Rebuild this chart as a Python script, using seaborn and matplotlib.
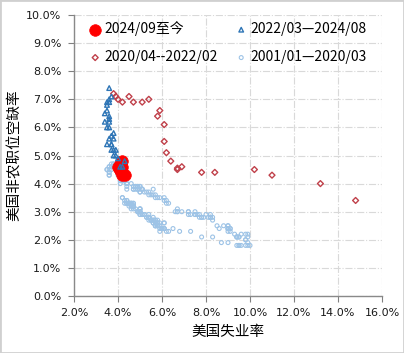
import pandas as pd
import numpy as np
import seaborn as sns
import matplotlib.pyplot as plt
from matplotlib.patches import Rectangle

# 2024/09 onwards
recent_ur = [4.1, 4.1, 4.2, 4.1, 4.0, 4.1, 4.2, 4.2, 4.2, 4.1, 4.2, 4.3]
recent_jo = [4.7, 4.6, 4.8, 4.5, 4.6, 4.5, 4.4, 4.4, 4.6, 4.5, 4.3, 4.3]

# 2022/03 - 2024/08
tri_ur = [3.6, 3.7, 3.6, 3.6, 3.5, 3.6, 3.5, 3.6, 3.6, 3.5,
          3.4, 3.6, 3.5, 3.4, 3.7, 3.6, 3.5, 3.8, 3.8, 3.8,
          3.7, 3.7, 3.7, 3.9, 3.8, 3.9, 4.0, 4.1, 4.3, 4.2]
tri_jo = [7.4, 7.1, 7.0, 6.9, 6.8, 6.3, 6.6, 6.2, 6.4, 6.9,
          6.5, 6.0, 6.0, 6.2, 5.7, 5.6, 5.4, 5.8, 5.6, 5.2,
          5.2, 5.4, 5.4, 5.2, 5.0, 5.0, 4.9, 4.6, 4.8, 4.6]

# 2020/04 - 2022/02
dia_ur = [14.8, 13.2, 11.0, 10.2, 8.4, 7.8, 6.9, 6.7, 6.7, 6.4, 6.2, 6.1,
          6.1, 5.8, 5.9, 5.4, 5.1, 4.7, 4.5, 4.2, 3.9, 4.0, 3.8]
dia_jo = [3.4, 4.0, 4.3, 4.5, 4.4, 4.4, 4.6, 4.55, 4.5, 4.8, 5.1, 5.5,
          6.1, 6.4, 6.6, 7.0, 6.9, 6.9, 7.1, 6.9, 7.1, 7.0, 7.2]

# 2001/01 - 2020/03
hist_ur = [4.2, 4.2, 4.3, 4.4, 4.3, 4.5, 4.6, 4.9, 5.0, 5.3, 5.5, 5.7,
           5.7, 5.7, 5.7, 5.9, 5.8, 5.8, 5.8, 5.7, 5.7, 5.7, 5.9, 6.0,
           5.8, 5.9, 5.9, 6.0, 6.1, 6.3, 6.2, 6.1, 6.1, 6.0, 5.8, 5.7,
           5.7, 5.6, 5.8, 5.6, 5.6, 5.6, 5.5, 5.4, 5.4, 5.5, 5.4, 5.4,
           5.3, 5.4, 5.2, 5.2, 5.1, 5.0, 5.0, 4.9, 5.0, 5.0, 5.0, 4.9,
           4.7, 4.8, 4.7, 4.7, 4.6, 4.6, 4.7, 4.7, 4.5, 4.4, 4.5, 4.4,
           4.6, 4.5, 4.4, 4.5, 4.4, 4.6, 4.7, 4.6, 4.7, 4.7, 4.7, 5.0,
           5.0, 4.9, 5.1, 5.0, 5.4, 5.6, 5.8, 6.1, 6.1, 6.5, 6.8, 7.3,
           7.8, 8.3, 8.7, 9.0, 9.4, 9.5, 9.5, 9.6, 9.8, 10.0, 9.9, 9.9,
           9.8, 9.8, 9.9, 9.9, 9.6, 9.4, 9.4, 9.5, 9.5, 9.4, 9.8, 9.3,
           9.1, 9.0, 9.0, 9.1, 9.0, 9.1, 9.0, 9.0, 9.0, 8.8, 8.6, 8.5,
           8.3, 8.3, 8.2, 8.2, 8.2, 8.2, 8.2, 8.1, 7.8, 7.8, 7.7, 7.9,
           8.0, 7.7, 7.5, 7.6, 7.5, 7.5, 7.3, 7.2, 7.2, 7.2, 6.9, 6.7,
           6.6, 6.7, 6.7, 6.2, 6.3, 6.1, 6.2, 6.1, 5.9, 5.7, 5.8, 5.6,
           5.7, 5.5, 5.4, 5.4, 5.6, 5.3, 5.2, 5.1, 5.0, 5.0, 5.1, 5.0,
           4.8, 4.9, 5.0, 5.1, 4.8, 4.9, 4.8, 4.9, 5.0, 4.9, 4.7, 4.7,
           4.7, 4.6, 4.4, 4.4, 4.4, 4.3, 4.3, 4.4, 4.2, 4.1, 4.2, 4.1,
           4.0, 4.1, 4.0, 4.0, 3.8, 4.0, 3.8, 3.8, 3.7, 3.8, 3.8, 3.9,
           4.0, 3.8, 3.8, 3.7, 3.6, 3.6, 3.7, 3.6, 3.5, 3.6, 3.6, 3.6,
           3.6, 3.5, 4.4]
hist_jo = [3.5, 3.5, 3.4, 3.3, 3.3, 3.2, 3.1, 3.0, 2.9, 2.8, 2.7, 2.7,
           2.7, 2.6, 2.6, 2.6, 2.5, 2.6, 2.6, 2.5, 2.5, 2.5, 2.5, 2.4,
           2.5, 2.4, 2.3, 2.4, 2.4, 2.3, 2.3, 2.4, 2.4, 2.4, 2.5, 2.5,
           2.6, 2.6, 2.6, 2.7, 2.7, 2.6, 2.7, 2.7, 2.8, 2.7, 2.8, 2.8,
           2.8, 2.9, 2.9, 2.9, 2.9, 3.0, 3.0, 3.0, 3.1, 3.0, 3.1, 3.0,
           3.1, 3.1, 3.2, 3.3, 3.2, 3.2, 3.2, 3.2, 3.3, 3.3, 3.3, 3.3,
           3.3, 3.3, 3.4, 3.3, 3.4, 3.3, 3.3, 3.3, 3.2, 3.2, 3.2, 3.1,
           3.0, 3.0, 2.9, 2.9, 2.8, 2.8, 2.7, 2.6, 2.6, 2.4, 2.3, 2.3,
           2.1, 2.1, 1.9, 1.9, 1.8, 1.8, 1.8, 1.8, 1.8, 1.8, 1.8, 1.9,
           2.0, 2.0, 2.1, 2.2, 2.2, 2.1, 2.1, 2.1, 2.1, 2.1, 2.2, 2.2,
           2.3, 2.4, 2.4, 2.4, 2.3, 2.4, 2.5, 2.4, 2.5, 2.5, 2.4, 2.5,
           2.7, 2.8, 2.8, 2.8, 2.9, 2.8, 2.8, 2.8, 2.8, 2.8, 2.8, 2.8,
           2.9, 2.9, 2.9, 2.9, 2.9, 3.0, 2.9, 3.0, 3.0, 2.9, 3.0, 3.0,
           3.0, 3.0, 3.1, 3.3, 3.3, 3.4, 3.4, 3.5, 3.5, 3.5, 3.5, 3.6,
           3.6, 3.6, 3.6, 3.7, 3.8, 3.7, 3.7, 3.8, 3.7, 3.7, 3.8, 3.8,
           3.9, 3.8, 3.9, 3.8, 3.9, 3.8, 3.8, 3.9, 3.9, 3.9, 3.8, 3.8,
           3.9, 4.0, 3.9, 4.0, 4.0, 4.1, 4.1, 4.0, 4.1, 4.0, 4.1, 4.1,
           4.3, 4.3, 4.4, 4.4, 4.6, 4.5, 4.6, 4.6, 4.6, 4.7, 4.6, 4.5,
           4.6, 4.6, 4.7, 4.7, 4.6, 4.5, 4.5, 4.6, 4.5, 4.4, 4.3, 4.3,
           4.4, 4.5, 3.8]

labels = ['2024/09至今', '2022/03—2024/08', '2020/04--2022/02', '2001/01—2020/03']

hist = pd.DataFrame({'ur': hist_ur, 'jo': hist_jo})
recent = pd.DataFrame({'ur': recent_ur, 'jo': recent_jo})
dia = pd.DataFrame({'ur': dia_ur, 'jo': dia_jo})
tri = pd.DataFrame({'ur': tri_ur, 'jo': tri_jo})

cjk = ['Noto Sans CJK SC', 'DejaVu Sans']

fig = plt.figure(figsize=(4.04, 3.53), dpi=100)
ax = fig.add_axes([74 / 404, 57 / 353, 308 / 404, 281 / 353])

sns.scatterplot(x='ur', y='jo', data=hist, ax=ax, marker='o', s=8,
                facecolor='none', edgecolor='#9DC3E6', linewidth=0.8,
                label=labels[3], zorder=2)
sns.scatterplot(x='ur', y='jo', data=recent, ax=ax, marker='o', s=70,
                color='#FF0000', edgecolor='#FF0000', linewidth=0.5,
                label=labels[0], zorder=3)
sns.scatterplot(x='ur', y='jo', data=dia, ax=ax, marker='D', s=9,
                facecolor='none', edgecolor='#C0404A', linewidth=1.0,
                label=labels[2], zorder=4)
sns.scatterplot(x='ur', y='jo', data=tri, ax=ax, marker='^', s=11,
                facecolor='none', edgecolor='#2E75B6', linewidth=1.0,
                label=labels[1], zorder=5)

ax.set_xlim(2, 16)
ax.set_ylim(0, 10)
ax.set_xticks(np.arange(2, 17, 2))
ax.set_yticks(np.arange(0, 11, 1))
ax.set_xticklabels([f'{v:.1f}%' for v in np.arange(2, 17, 2)])
ax.set_yticklabels([f'{v:.1f}%' for v in np.arange(0, 11, 1)])
ax.tick_params(labelsize=8, colors='#808080', labelcolor='#1a1a1a',
               length=4, width=0.8, pad=5)
ax.grid(True, color='#D9D9D9', linestyle='-.', linewidth=0.8)
ax.set_axisbelow(True)
for s in ['top', 'right']:
    ax.spines[s].set_visible(False)
for s in ['left', 'bottom']:
    ax.spines[s].set_color('#898989')
    ax.spines[s].set_linewidth(1.0)

ax.set_xlabel('美国失业率', family=cjk, fontsize=10.5, labelpad=5)
ax.set_ylabel('美国非农职位空缺率', family=cjk, fontsize=10.5, labelpad=3)

handles, labs = ax.get_legend_handles_labels()
order = [labs.index(l) for l in labels]
# column-wise fill: col1 = red, diamond ; col2 = triangle, light blue
leg_order = [order[0], order[2], order[1], order[3]]
ax.legend([handles[i] for i in leg_order], [labs[i] for i in leg_order],
          ncol=2, loc='upper left', bbox_to_anchor=(0.035, 0.997),
          frameon=False, prop={'family': cjk, 'size': 10},
          handlelength=0.7, handletextpad=0.3, columnspacing=1.35,
          labelspacing=1.0, borderaxespad=0)

fig.add_artist(Rectangle((0, 0), 1, 1, transform=fig.transFigure, fill=False,
                         edgecolor='#D0D0D0', linewidth=2))

plt.savefig('out.png', dpi=100)
